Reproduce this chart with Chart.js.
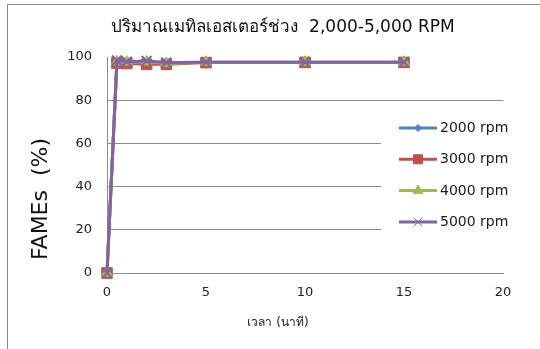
<!DOCTYPE html>
<html>
<head>
<meta charset="utf-8">
<script src="https://cdn.jsdelivr.net/npm/chart.js@4/dist/chart.umd.min.js"></script>
<style>
  html, body { margin: 0; padding: 0; background: #fff; }
  #wrap { width: 540px; height: 349px; position: relative; }
</style>
</head>
<body>
<div id="wrap"><canvas id="chart" width="540" height="349"></canvas></div>
<script>
// Reaction time (minutes) and methyl ester yield (%) per stirring speed
const timeMin = [0, 0.5, 1, 2, 3, 5, 10, 15];
const seriesNames = ['2000 rpm', '3000 rpm', '4000 rpm', '5000 rpm'];
const fames2000 = [0, 97.8, 97.5, 97.8, 97.2, 97.6, 97.6, 97.6];
const fames3000 = [0, 97.2, 97.0, 96.6, 96.6, 97.4, 97.5, 97.5];
const fames4000 = [0, 97.8, 97.6, 97.8, 97.0, 97.6, 97.6, 97.6];
const fames5000 = [0, 98.4, 97.8, 98.2, 97.4, 97.6, 97.6, 97.6];
const yTickValues = [0, 20, 40, 60, 80, 100];
const xTickValues = [0, 5, 10, 15, 20];
const chartTitle = 'ปริมาณเมทิลเอสเตอร์ช่วง  2,000-5,000 RPM';
const xAxisTitle = 'เวลา (นาที)';
const yAxisTitle = 'FAMEs  (%)';

const seriesValues = [fames2000, fames3000, fames4000, fames5000];
const seriesStyles = [
  { color: '#4F81BD', pointStyle: 'rectRot', radius: 5, pointBorderWidth: 1 },
  { color: '#C0504D', pointStyle: 'rect', radius: 7.5, pointBorderWidth: 1 },
  { color: '#9BBB59', pointStyle: 'triangle', radius: 6.5, pointBorderWidth: 1 },
  { color: '#8064A2', pointStyle: 'crossRot', radius: 7, pointBorderWidth: 2 }
];

const gridGray = '#8C8C8C';
const textFont = 'DejaVu Sans, "Noto Sans", sans-serif';

const datasets = seriesNames.map((name, i) => {
  const st = seriesStyles[i];
  return {
    label: name,
    data: timeMin.map((t, k) => ({ x: t, y: seriesValues[i][k] })),
    borderColor: st.color,
    backgroundColor: st.color,
    pointBackgroundColor: st.color,
    pointBorderColor: st.color,
    pointStyle: st.pointStyle,
    pointRadius: st.radius,
    pointBorderWidth: st.pointBorderWidth,
    borderWidth: 3,
    tension: 0,
    clip: false,
    order: seriesNames.length - i
  };
});

// Outer chart frame (left and top edges)
const framePlugin = {
  id: 'frame',
  beforeDraw(chart) {
    const ctx = chart.ctx;
    ctx.save();
    ctx.strokeStyle = gridGray;
    ctx.lineWidth = 1;
    ctx.strokeRect(7.5, 4.5, 1000, 1000);
    ctx.restore();
  }
};

// Axis titles placed relative to the scale boxes
const axisTitles = {
  id: 'axisTitles',
  afterDraw(chart) {
    const ctx = chart.ctx;
    const area = chart.chartArea;
    ctx.save();
    ctx.fillStyle = '#111';
    ctx.textAlign = 'center';
    ctx.textBaseline = 'middle';
    // vertical title left of the y ticks
    ctx.save();
    ctx.translate(41, (area.top + area.bottom) / 2 + 34);
    ctx.rotate(-Math.PI / 2);
    ctx.font = '22px ' + textFont;
    ctx.fillText(yAxisTitle, 0, 0);
    ctx.restore();
    // horizontal title under the x ticks
    ctx.fillStyle = '#222';
    ctx.font = '12px ' + textFont;
    ctx.fillText(xAxisTitle, 278, area.bottom + 50);
    ctx.restore();
  }
};

// Legend panel on the right side of the plot, each entry a line with its marker
const legendPanel = {
  id: 'legendPanel',
  beforeDatasetsDraw(chart) {
    const ctx = chart.ctx;
    ctx.save();
    ctx.fillStyle = '#fff';
    ctx.fillRect(381, 106, 200, 162);
    ctx.restore();
  },
  afterDraw(chart) {
    const ctx = chart.ctx;
    ctx.save();
    chart.data.datasets.forEach((ds, i) => {
      const y = 128 + i * 31.3;
      ctx.strokeStyle = ds.borderColor;
      ctx.lineWidth = ds.borderWidth;
      ctx.beginPath();
      ctx.moveTo(399, y);
      ctx.lineTo(437, y);
      ctx.stroke();
      ctx.fillStyle = ds.pointBackgroundColor;
      ctx.strokeStyle = ds.pointBorderColor;
      ctx.lineWidth = ds.pointStyle === 'crossRot' ? 1 : ds.pointBorderWidth;
      Chart.helpers.drawPoint(ctx, {
        pointStyle: ds.pointStyle,
        radius: ds.pointStyle === 'rectRot' ? 3.5 : ds.pointRadius * 0.85,
        rotation: 0,
        borderWidth: ctx.lineWidth
      }, 418, y);
      ctx.fillStyle = '#1a1a1a';
      ctx.font = '14px ' + textFont;
      ctx.textAlign = 'left';
      ctx.textBaseline = 'middle';
      ctx.fillText(ds.label, 440, y + 0.5);
    });
    ctx.restore();
  }
};

new Chart(document.getElementById('chart'), {
  type: 'line',
  data: { datasets },
  plugins: [framePlugin, legendPanel, axisTitles],
  options: {
    responsive: false,
    animation: false,
    devicePixelRatio: 1,
    layout: { padding: { left: 63, right: 37, top: 0, bottom: 0 } },
    plugins: {
      legend: { display: false },
      tooltip: { enabled: false },
      title: {
        display: true,
        text: chartTitle,
        color: '#111',
        font: { family: textFont, size: 17, weight: 'normal' },
        padding: { top: 17, bottom: 19.6 }
      }
    },
    scales: {
      x: {
        type: 'linear',
        min: 0,
        max: 20,
        afterBuildTicks(scale) { scale.ticks = xTickValues.map(v => ({ value: v })); },
        afterFit(scale) { scale.height = 76; },
        grid: { display: false, drawTicks: false },
        border: { display: true, color: gridGray, width: 1 },
        ticks: { color: '#222', padding: 12, font: { family: textFont, size: 13 } },
        title: { display: false, text: xAxisTitle }
      },
      y: {
        type: 'linear',
        min: 0,
        max: 100,
        afterBuildTicks(scale) { scale.ticks = yTickValues.map(v => ({ value: v })); },
        afterFit(scale) { scale.width = 44; },
        grid: {
          drawTicks: false,
          color: (c) => (c.tick && c.tick.value === 100 ? 'rgba(0,0,0,0)' : gridGray),
          lineWidth: 1
        },
        border: { display: true, color: gridGray, width: 1 },
        ticks: { color: '#222', padding: 15, font: { family: textFont, size: 13 } },
        title: { display: false, text: yAxisTitle }
      }
    }
  }
});
</script>
</body>
</html>
